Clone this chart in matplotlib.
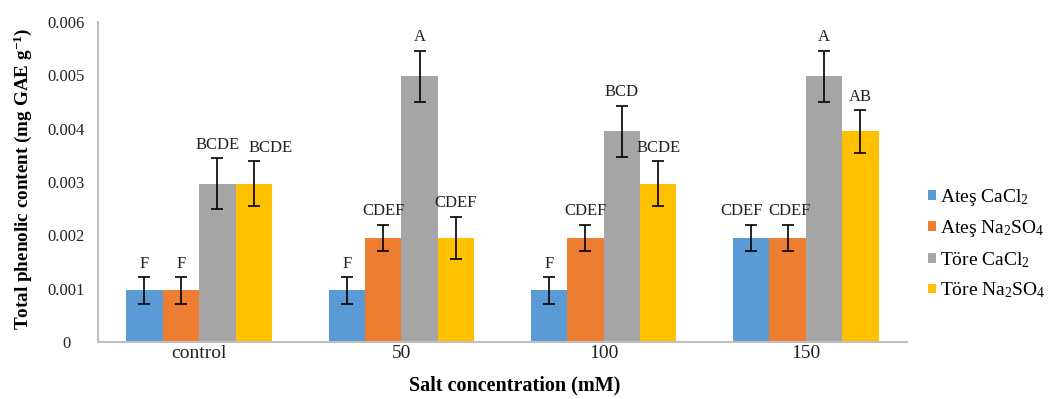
import numpy as np
import matplotlib
matplotlib.use("Agg")
import matplotlib.pyplot as plt

plt.rcParams["font.family"] = ["Liberation Serif", "DejaVu Serif"]
plt.rcParams["mathtext.fontset"] = "custom"
plt.rcParams["mathtext.rm"] = "Liberation Serif"
plt.rcParams["mathtext.it"] = "Liberation Serif:italic"
plt.rcParams["mathtext.bf"] = "Liberation Serif:bold"

categories = ["control", "50", "100", "150"]
series = ["Ateş CaCl$_2$", "Ateş Na$_2$SO$_4$", "Töre CaCl$_2$", "Töre Na$_2$SO$_4$"]
colors = ["#5b9bd5", "#ed7d31", "#a5a5a5", "#ffc000"]

ates_cacl2 = [0.00097, 0.00097, 0.00097, 0.00195]
ates_na2so4 = [0.00097, 0.00195, 0.00195, 0.00195]
tore_cacl2 = [0.00297, 0.00498, 0.00395, 0.00498]
tore_na2so4 = [0.00297, 0.00195, 0.00297, 0.00395]

err_ates_cacl2 = [0.00025, 0.00025, 0.00025, 0.00025]
err_ates_na2so4 = [0.00025, 0.00025, 0.00025, 0.00025]
err_tore_cacl2 = [0.00048, 0.00048, 0.00048, 0.00048]
err_tore_na2so4 = [0.00042, 0.0004, 0.00042, 0.0004]

letters_ates_cacl2 = ["F", "F", "F", "CDEF"]
letters_ates_na2so4 = ["F", "CDEF", "CDEF", "CDEF"]
letters_tore_cacl2 = ["BCDE", "A", "BCD", "A"]
letters_tore_na2so4 = ["BCDE", "CDEF", "BCDE", "AB"]

values = [ates_cacl2, ates_na2so4, tore_cacl2, tore_na2so4]
errors = [err_ates_cacl2, err_ates_na2so4, err_tore_cacl2, err_tore_na2so4]
letters = [letters_ates_cacl2, letters_ates_na2so4, letters_tore_cacl2, letters_tore_na2so4]

# sideways nudges for crowded letter labels: (series, category) -> dx
nudge = {(0, 3): -0.05, (1, 3): 0.01, (3, 0): 0.085}

fig = plt.figure(figsize=(10.49, 3.99), dpi=100)
ax = fig.add_axes([0.0934, 0.1429, 0.7712, 0.8021])

x = np.arange(len(categories))
width = 0.18
for i, (vals, errs, labs) in enumerate(zip(values, errors, letters)):
    pos = x + (i - 1.5) * width
    ax.bar(pos, vals, width, color=colors[i], label=series[i], zorder=2)
    ax.errorbar(pos, vals, yerr=errs, fmt="none", ecolor="black",
                elinewidth=1.2, capsize=4, capthick=1.2, zorder=3)
    for j, (p, v, e, t) in enumerate(zip(pos, vals, errs, labs)):
        ax.text(p + nudge.get((i, j), 0), v + e + 0.0001, t, ha="center",
                va="bottom", fontsize=12, color="#222222")

ax.set_xlim(-0.5, len(categories) - 0.5)
ax.set_ylim(0, 0.006)
ax.set_yticks(np.arange(0, 0.0061, 0.001))
ax.set_yticklabels(["0", "0.001", "0.002", "0.003", "0.004", "0.005", "0.006"],
                   ha="center")
ax.set_xticks(x)
ax.set_xticklabels(categories)
ax.tick_params(axis="x", length=0, labelsize=14, colors="#222222", pad=2)
ax.tick_params(axis="y", length=0, labelsize=12, colors="#222222", pad=23)

for side in ["top", "right"]:
    ax.spines[side].set_visible(False)
for side in ["left", "bottom"]:
    ax.spines[side].set_color("#bfbfbf")
    ax.spines[side].set_linewidth(1.5)

ax.set_xlabel("Salt concentration (mM)", fontsize=14.5, fontweight="bold")
ax.xaxis.set_label_coords(0.515, -0.105)
ax.set_ylabel(r"Total phenolic content (mg GAE g$^{\mathbf{-1}}$)", fontsize=13.8,
              fontweight="bold")
ax.yaxis.set_label_coords(-0.079, 0.51)

fig.legend(loc="center left", bbox_to_anchor=(0.885, 0.39), frameon=False,
           fontsize=14, handlelength=0.4, handleheight=0.4, handletextpad=0.2,
           labelspacing=0.55, borderaxespad=0, borderpad=0)

fig.savefig("out.png", dpi=100)
